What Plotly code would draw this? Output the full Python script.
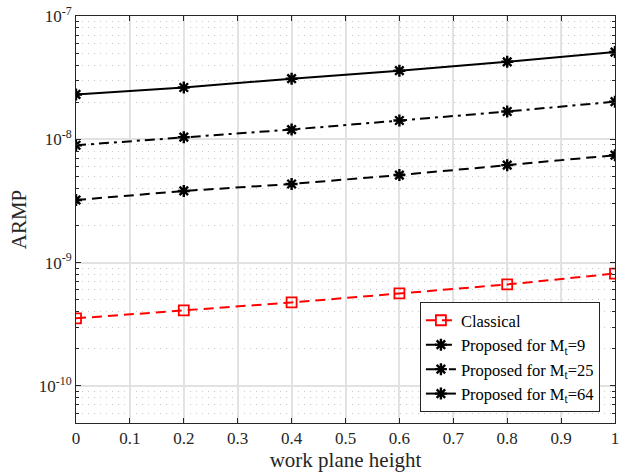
import plotly.graph_objects as go

# work plane height (m)
heights = [0, 0.2, 0.4, 0.6, 0.8, 1.0]

# ARMP values per scheme
armp_classical = [3.53e-10, 4.10e-10, 4.75e-10, 5.62e-10, 6.65e-10, 8.15e-10]
armp_mt9 = [3.22e-9, 3.81e-9, 4.34e-9, 5.13e-9, 6.17e-9, 7.43e-9]
armp_mt25 = [8.95e-9, 1.04e-8, 1.20e-8, 1.42e-8, 1.68e-8, 2.02e-8]
armp_mt64 = [2.31e-8, 2.63e-8, 3.10e-8, 3.60e-8, 4.25e-8, 5.10e-8]

series_names = ["Classical", "Proposed for M<sub>t</sub>=9",
                "Proposed for M<sub>t</sub>=25", "Proposed for M<sub>t</sub>=64"]

x_tickvals = [0, 0.1, 0.2, 0.3, 0.4, 0.5, 0.6, 0.7, 0.8, 0.9, 1.0]
x_ticktext = ["0", "0.1", "0.2", "0.3", "0.4", "0.5", "0.6", "0.7", "0.8", "0.9", "1"]

y_tickvals = [1e-10, 1e-9, 1e-8, 1e-7]
y_ticktext = ["10<sup>-10</sup>", "10<sup>-9</sup>", "10<sup>-8</sup>", "10<sup>-7</sup>"]
# minor log ticks: 2..9 within each decade, from 5e-11 upward
y_minorvals = [m * 10.0 ** e for e in (-11, -10, -9, -8) for m in range(2, 10)
               if 5e-11 <= m * 10.0 ** e < 1e-7]

FONT = "Liberation Serif"
INK = "#262626"

fig = go.Figure()

asterisk = dict(symbol="asterisk-open", size=10, color="black",
                line=dict(width=2.4, color="black"))

fig.add_trace(go.Scatter(
    x=heights, y=armp_classical, name=series_names[0], mode="lines+markers",
    line=dict(color="#ff0000", width=2, dash="10px,6px"),
    marker=dict(symbol="square-open", size=10, color="#ff0000", line=dict(width=1.8)),
))
fig.add_trace(go.Scatter(
    x=heights, y=armp_mt9, name=series_names[1], mode="lines+markers",
    line=dict(color="black", width=2, dash="10px,6px"),
    marker=asterisk,
))
fig.add_trace(go.Scatter(
    x=heights, y=armp_mt25, name=series_names[2], mode="lines+markers",
    line=dict(color="black", width=2, dash="10px,5px,3px,5px"),
    marker=asterisk,
))
fig.add_trace(go.Scatter(
    x=heights, y=armp_mt64, name=series_names[3], mode="lines+markers",
    line=dict(color="black", width=2),
    marker=asterisk,
))

axis_common = dict(
    showline=True, linecolor=INK, linewidth=1, mirror="allticks",
    ticks="inside", ticklen=5, tickcolor=INK,
    tickfont=dict(family=FONT, size=17, color=INK),
    gridcolor="#e2e2e2", gridwidth=1.5, zeroline=False,
)

fig.update_xaxes(
    range=[0, 1], tickmode="array", tickvals=x_tickvals, ticktext=x_ticktext,
    title=dict(text="work plane height", font=dict(family=FONT, size=21, color=INK), standoff=4),
    **axis_common,
)
fig.update_yaxes(
    type="log", range=[-10.301, -7],
    tickmode="array", tickvals=y_tickvals, ticktext=y_ticktext,
    minor=dict(tickmode="array", tickvals=y_minorvals,
               ticks="inside", ticklen=3, tickcolor=INK, showgrid=True,
               gridcolor="#c8c8c8", griddash="1px,5px", gridwidth=1),
    title=dict(text="ARMP", font=dict(family=FONT, size=21, color=INK), standoff=6),
    **axis_common,
)

fig.update_layout(
    width=623, height=474,
    margin=dict(l=76, r=4, t=14, b=51),
    plot_bgcolor="white", paper_bgcolor="white",
    font=dict(family=FONT, color=INK),
    showlegend=True,
    legend=dict(
        x=0.972, y=0.027, xanchor="right", yanchor="bottom",
        bgcolor="white", bordercolor=INK, borderwidth=1,
        font=dict(family=FONT, size=16.5, color="black"),
        itemwidth=30,
    ),
)

fig.write_html("out.html")
